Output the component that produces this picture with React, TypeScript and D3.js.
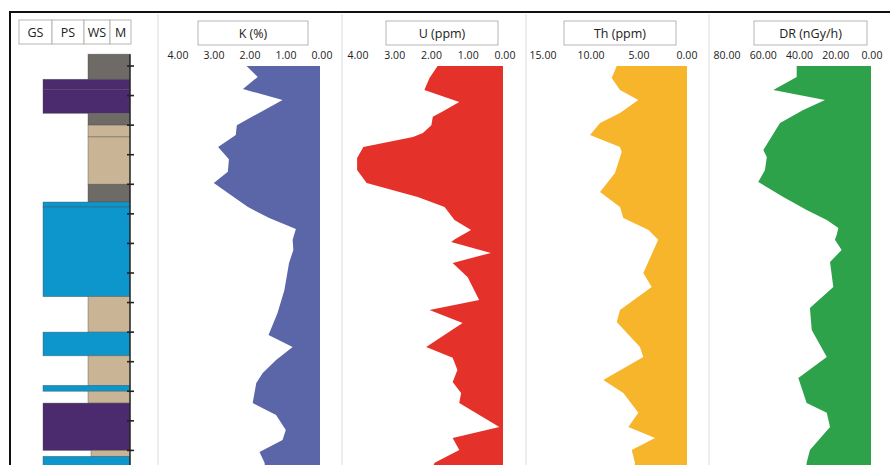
import React from "react";
import * as d3 from "d3";

// ---------- DATA ----------
const lithoTop = [0.6, 1.45, 1.8, 2.6, 3.0, 3.4, 5.0, 5.6, 5.77, 8.8, 10.0, 10.8, 11.8, 12.0, 12.4, 14.0, 14.2];
const lithoBottom = [1.45, 1.8, 2.6, 3.0, 3.4, 5.0, 5.6, 5.77, 8.8, 10.0, 10.8, 11.8, 12.0, 12.4, 14.0, 14.2, 15.5];
const lithoType = ["M", "PK", "PK", "M", "WS", "WS", "M", "GS", "GS", "WS", "GS", "WS", "GS", "WS", "PK", "WS2", "GS"];
const lithoHeaders = ["GS", "PS", "WS", "M"];
const depthTicks = [1, 2, 3, 4, 5, 6, 7, 8, 9, 10, 11, 12, 13, 14];

const kDepth = [1.0, 1.37, 1.78, 2.15, 3.0, 3.33, 3.74, 4.15, 4.58, 4.96, 5.53, 5.77, 6.14, 6.51, 6.88, 7.22, 7.66, 8.58, 9.35, 10.1, 10.5, 10.94, 11.38, 11.72, 12.4, 12.8, 13.31, 13.65, 14.05, 14.42, 14.8];
const kValue = [2.04, 1.73, 2.14, 1.04, 2.31, 2.34, 2.83, 2.53, 2.56, 2.95, 2.28, 2.0, 1.41, 0.67, 0.76, 0.74, 0.86, 0.99, 1.18, 1.43, 0.76, 1.22, 1.59, 1.77, 1.87, 1.22, 0.95, 1.04, 1.68, 1.54, 1.5];

const uDepth = [1.0, 1.41, 1.81, 2.22, 2.56, 2.72, 3.0, 3.27, 3.4, 3.74, 4.11, 4.52, 4.96, 5.43, 5.77, 6.21, 6.55, 6.85, 6.95, 7.32, 7.66, 8.14, 8.91, 9.25, 9.69, 10.5, 10.87, 11.28, 11.69, 12.06, 12.4, 13.21, 13.58, 13.99, 14.42, 14.8];
const uValue = [1.78, 2.0, 2.14, 1.19, 1.68, 1.91, 1.95, 2.18, 2.45, 3.8, 3.97, 3.97, 3.71, 2.32, 1.59, 1.32, 0.87, 1.3, 1.41, 0.33, 1.37, 0.96, 0.65, 2.0, 1.1, 2.09, 1.37, 1.24, 1.37, 1.14, 1.19, 0.1, 1.37, 1.19, 1.86, 2.0];

const thDepth = [1.0, 1.41, 1.81, 2.15, 2.59, 2.93, 3.33, 3.74, 3.91, 4.62, 5.26, 5.77, 6.14, 6.55, 6.88, 8.0, 8.47, 9.25, 9.66, 10.5, 10.84, 11.62, 12.06, 12.73, 13.21, 13.58, 13.99, 14.42, 14.8];
const thValue = [7.32, 7.84, 6.98, 5.07, 6.98, 9.06, 10.1, 6.98, 6.8, 7.5, 9.06, 6.98, 6.63, 4.0, 3.0, 4.55, 3.68, 6.98, 7.32, 4.9, 4.55, 8.72, 6.63, 5.07, 6.11, 3.33, 5.76, 5.42, 5.5];

const drDepth = [1.0, 1.37, 1.81, 2.15, 2.49, 2.93, 3.84, 4.08, 4.52, 4.92, 5.43, 5.87, 6.21, 6.48, 6.72, 6.88, 7.22, 7.63, 8.47, 9.18, 9.93, 10.84, 11.55, 12.4, 12.73, 13.21, 13.99, 14.42, 14.8];
const drValue = [41, 41, 53.9, 25.4, 37.4, 50.2, 59.4, 57.5, 58.5, 62.2, 48.4, 35.5, 24.4, 18, 19, 19.9, 16.2, 22.6, 20.8, 33.7, 32.7, 24.4, 40.1, 35.5, 24.4, 22.6, 33.7, 35.5, 36];

const kTicks = [4, 3, 2, 1, 0];
const uTicks = [4, 3, 2, 1, 0];
const thTicks = [15, 10, 5, 0];
const drTicks = [80, 60, 40, 20, 0];

// ---------- LAYOUT ----------
const W = 890;
const H = 465;
const FONT = "'Open Sans', 'Noto Sans', sans-serif";

const y = d3.scaleLinear().domain([1, 14]).range([66, 66 + 13 * 29.57]);

const lithoColor = d3
  .scaleOrdinal<string, string>()
  .domain(["M", "PK", "WS", "GS", "WS2"])
  .range(["#6e6a65", "#4b2a6e", "#c9b596", "#0c96cb", "#c9b596"]);
const lithoLeft = d3
  .scaleOrdinal<string, number>()
  .domain(["M", "PK", "WS", "GS", "WS2"])
  .range([88, 43, 88, 43, 91]);
const lithoRight = 130;

const headerBand = d3.scaleOrdinal<string, [number, number]>()
  .domain(lithoHeaders)
  .range([[19, 52], [52, 84], [84, 110], [110, 131]]);

type Panel = {
  label: string;
  depth: number[];
  value: number[];
  ticks: number[];
  max: number;
  x0: number;
  x1: number;
  color: string;
  box: [number, number];
  sep: number;
  labelDx: number;
};

const panels: Panel[] = [
  { label: "K (%)", depth: kDepth, value: kValue, ticks: kTicks, max: 4, x0: 176, x1: 320, color: "#5a66a7", box: [198, 308], sep: 158, labelDx: 2 },
  { label: "U (ppm)", depth: uDepth, value: uValue, ticks: uTicks, max: 4, x0: 356, x1: 503, color: "#e4322b", box: [386, 498], sep: 342, labelDx: 2 },
  { label: "Th (ppm)", depth: thDepth, value: thValue, ticks: thTicks, max: 15, x0: 543, x1: 687, color: "#f6b52a", box: [564, 676], sep: 526, labelDx: 0 },
  { label: "DR (nGy/h)", depth: drDepth, value: drValue, ticks: drTicks, max: 80, x0: 726, x1: 871, color: "#2da24a", box: [754, 867], sep: 709, labelDx: 1 },
];

function PanelView({ p }: { p: Panel }) {
  const x = d3.scaleLinear().domain([p.max, 0]).range([p.x0, p.x1]);
  const pts = p.depth.map((d, i) => ({ d, v: p.value[i] }));
  const area = d3
    .area<{ d: number; v: number }>()
    .y((q) => y(q.d))
    .x0(x(0))
    .x1((q) => x(q.v))
    .curve(d3.curveLinear);
  return (
    <g>
      <line x1={p.sep} x2={p.sep} y1={14} y2={H} stroke="#e2e2e2" strokeWidth={1.2} />
      <rect x={p.box[0]} y={21} width={p.box[1] - p.box[0]} height={24} fill="#fff" stroke="#b5b5b5" strokeWidth={1} />
      <text x={(p.box[0] + p.box[1]) / 2} y={37.5} textAnchor="middle" fontSize={12.5} fontFamily={FONT} fill="#222">
        {p.label}
      </text>
      {p.ticks.map((t) => (
        <text key={t} x={x(t) + p.labelDx} y={59} textAnchor="middle" fontSize={10.5} fontFamily={FONT} fill="#222">
          {t.toFixed(2)}
        </text>
      ))}
      <path d={area(pts) || ""} fill={p.color} />
    </g>
  );
}

export default function App() {
  const litho = lithoTop.map((t, i) => ({ t, b: lithoBottom[i], k: lithoType[i] }));
  return (
    <svg width={W} height={H} style={{ position: "absolute", left: 0, top: 0, background: "#fff" }}>
      <rect x={0} y={0} width={W} height={H} fill="#fff" />
      {/* frame */}
      <line x1={10} x2={W} y1={12} y2={12} stroke="#111" strokeWidth={2} />
      <line x1={10} x2={10} y1={11} y2={H} stroke="#111" strokeWidth={2} />

      {/* litho header */}
      {lithoHeaders.map((h) => {
        const [a, b] = headerBand(h);
        return (
          <g key={h}>
            <rect x={a} y={20} width={b - a} height={24} fill="#fff" stroke="#b5b5b5" strokeWidth={1} />
            <text x={(a + b) / 2} y={37} textAnchor="middle" fontSize={12.5} fontFamily={FONT} fill="#222">
              {h}
            </text>
          </g>
        );
      })}

      {/* litho column */}
      {litho.map((l, i) => (
        <rect
          key={i}
          x={lithoLeft(l.k)}
          y={y(l.t)}
          width={lithoRight - lithoLeft(l.k)}
          height={y(l.b) - y(l.t)}
          fill={lithoColor(l.k)}
          stroke="#4a4a4a"
          strokeOpacity={0.55}
          strokeWidth={0.7}
        />
      ))}
      <line x1={lithoRight} x2={lithoRight} y1={y(0.6)} y2={H} stroke="#222" strokeWidth={1.4} />
      {depthTicks.map((t) => (
        <line key={t} x1={lithoRight - 3} x2={lithoRight + 4} y1={y(t)} y2={y(t)} stroke="#222" strokeWidth={1.6} />
      ))}

      {panels.map((p) => (
        <PanelView key={p.label} p={p} />
      ))}
    </svg>
  );
}
